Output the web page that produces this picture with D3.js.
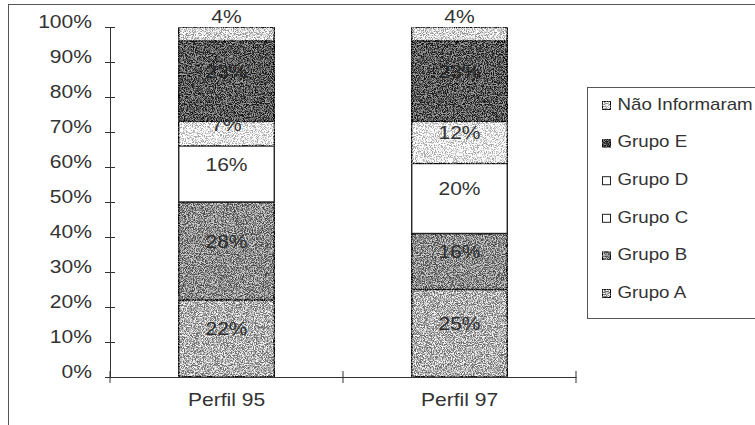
<!DOCTYPE html>
<html lang="pt">
<head>
<meta charset="utf-8">
<title>Perfil 95 x Perfil 97</title>
<script src="https://d3js.org/d3.v7.min.js"></script>
<style>
  body { margin: 0; background: #fff; }
  svg text { font-family: "Liberation Sans", Arial, sans-serif; fill: #333; }
</style>
</head>
<body>
<script>
  // data
  const categories = ["Perfil 95", "Perfil 97"];
  const groups = ["Grupo A", "Grupo B", "Grupo C", "Grupo D", "Grupo E", "Não Informaram"];
  const grupoA = [22, 25];
  const grupoB = [28, 16];
  const grupoC = [16, 20];
  const grupoD = [7, 12];
  const grupoE = [23, 23];
  const naoInformaram = [4, 4];
  const yTicks = [0, 10, 20, 30, 40, 50, 60, 70, 80, 90, 100];

  const series = [grupoA, grupoB, grupoC, grupoD, grupoE, naoInformaram];
  const fills = ["#b0b0b0", "#8c8c8c", "#ffffff", "#eeeeee", "#595959", "#d8d8d8"];
  const legendFills = ["#b0b0b0", "#8c8c8c", "#ffffff", "#ffffff", "#444444", "#d8d8d8"];
  const textured = [true, true, false, true, true, true];
  const labelColor = ["#2e2e2e", "#2e2e2e", "#333", "#333", "#262626", "#333"];

  const stretch = "scale(1.17,1)";   // scanned text is wider than the font

  const W = 755, H = 425;
  const svg = d3.select("body").append("svg")
      .attr("width", W)
      .attr("height", H);

  // speckle texture like the scanned print
  const defs = svg.append("defs");
  const f = defs.append("filter").attr("id", "speckle")
      .attr("color-interpolation-filters", "sRGB")
      .attr("x", 0).attr("y", 0).attr("width", 1).attr("height", 1);
  f.append("feTurbulence").attr("type", "fractalNoise")
      .attr("baseFrequency", 1.1).attr("numOctaves", 2).attr("seed", 5).attr("result", "noise");
  f.append("feColorMatrix").attr("in", "noise").attr("type", "matrix")
      .attr("values", "3.5 0 0 0 -1.25  3.5 0 0 0 -1.25  3.5 0 0 0 -1.25  0 0 0 0 1")
      .attr("result", "gray");
  f.append("feComposite").attr("in", "SourceGraphic").attr("in2", "gray")
      .attr("operator", "arithmetic")
      .attr("k1", 0).attr("k2", 1).attr("k3", 0.55).attr("k4", -0.275)
      .attr("result", "mix");
  f.append("feComposite").attr("in", "mix").attr("in2", "SourceGraphic").attr("operator", "in");

  // outer frame (runs off the right and bottom)
  svg.append("rect")
      .attr("x", 8.5).attr("y", 4.5)
      .attr("width", 800).attr("height", 460)
      .attr("fill", "none").attr("stroke", "#555").attr("stroke-width", 1);

  const pLeft = 110, pRight = 576, pTop = 27, pBottom = 377;

  const x = d3.scaleBand()
      .domain(categories)
      .range([pLeft, pRight]);

  const y = d3.scaleLinear()
      .domain([0, 100])
      .range([pBottom, pTop]);

  const barW = x.bandwidth() * 0.41;

  const stacked = d3.stack().keys(d3.range(groups.length))
      .value((d, k) => series[k][d])(d3.range(categories.length));

  const layer = svg.selectAll("g.layer")
      .data(stacked)
      .join("g")
      .attr("class", "layer");

  layer.selectAll("rect")
      .data((s, k) => s.map((d, i) => ({ d, i, k })))
      .join("rect")
      .attr("x", o => x(categories[o.i]) + (x.bandwidth() - barW) / 2)
      .attr("y", o => y(o.d[1]))
      .attr("width", barW)
      .attr("height", o => y(o.d[0]) - y(o.d[1]))
      .attr("fill", o => fills[o.k])
      .attr("filter", o => textured[o.k] ? "url(#speckle)" : null)
      .attr("stroke", "#222")
      .attr("stroke-width", 1.4);

  // value labels
  layer.selectAll("text")
      .data((s, k) => s.map((d, i) => ({ d, i, k })))
      .join("text")
      .attr("transform", o => {
        const cx = x(categories[o.i]) + x.bandwidth() / 2;
        const cy = o.k === groups.length - 1 ? y(o.d[1]) - 9 : (y(o.d[0]) + y(o.d[1])) / 2 - 8;
        return "translate(" + cx + "," + cy + ")" + stretch;
      })
      .attr("dominant-baseline", "middle")
      .attr("text-anchor", "middle")
      .style("font-size", "18px")
      .style("fill", o => labelColor[o.k])
      .text(o => series[o.k][o.i] + "%");

  // y axis with crossing ticks
  const yAxis = svg.append("g")
      .attr("transform", "translate(" + pLeft + ",0)")
      .call(d3.axisLeft(y).tickValues(yTicks).tickFormat(d => d + "%")
            .tickSize(5).tickSizeOuter(0).tickPadding(10.4));
  yAxis.selectAll(".tick line").attr("x2", -5).attr("x1", 5).attr("stroke", "#333");
  yAxis.select(".domain").attr("stroke", "#333");
  yAxis.selectAll("text")
      .style("font-size", "18px").attr("fill", "#333")
      .attr("y", -5)
      .attr("transform", stretch);

  // x axis
  const xAxis = svg.append("g")
      .attr("transform", "translate(0," + pBottom + ")")
      .call(d3.axisBottom(x).tickSize(0).tickSizeOuter(0).tickPadding(16));
  xAxis.select(".domain").attr("stroke", "#333");
  xAxis.selectAll("text")
      .style("font-size", "18px").attr("fill", "#333")
      .attr("transform", stretch);
  xAxis.selectAll("line.sep")
      .data(d3.range(categories.length + 1))
      .join("line")
      .attr("class", "sep")
      .attr("x1", i => pLeft + i * x.step())
      .attr("x2", i => pLeft + i * x.step())
      .attr("y1", -6).attr("y2", 6)
      .attr("stroke", "#333");

  // legend
  const legend = svg.append("g").attr("transform", "translate(587.5,87.5)");
  legend.append("rect")
      .attr("width", 200).attr("height", 231)
      .attr("fill", "#fff").attr("stroke", "#555");

  const order = d3.range(groups.length).reverse();
  const item = legend.selectAll("g.item")
      .data(order)
      .join("g")
      .attr("class", "item")
      .attr("transform", (k, j) => "translate(15," + (18 + j * 37.6) + ")");
  item.append("rect")
      .attr("x", 0).attr("y", -4)
      .attr("width", 8).attr("height", 8)
      .attr("fill", k => legendFills[k])
      .attr("filter", k => textured[k] && k !== 3 ? "url(#speckle)" : null)
      .attr("stroke", "#222").attr("stroke-width", 1);
  item.append("text")
      .attr("transform", "translate(15,0)" + stretch)
      .attr("dominant-baseline", "middle")
      .style("font-size", "16px")
      .text(k => groups[k]);
</script>
</body>
</html>
